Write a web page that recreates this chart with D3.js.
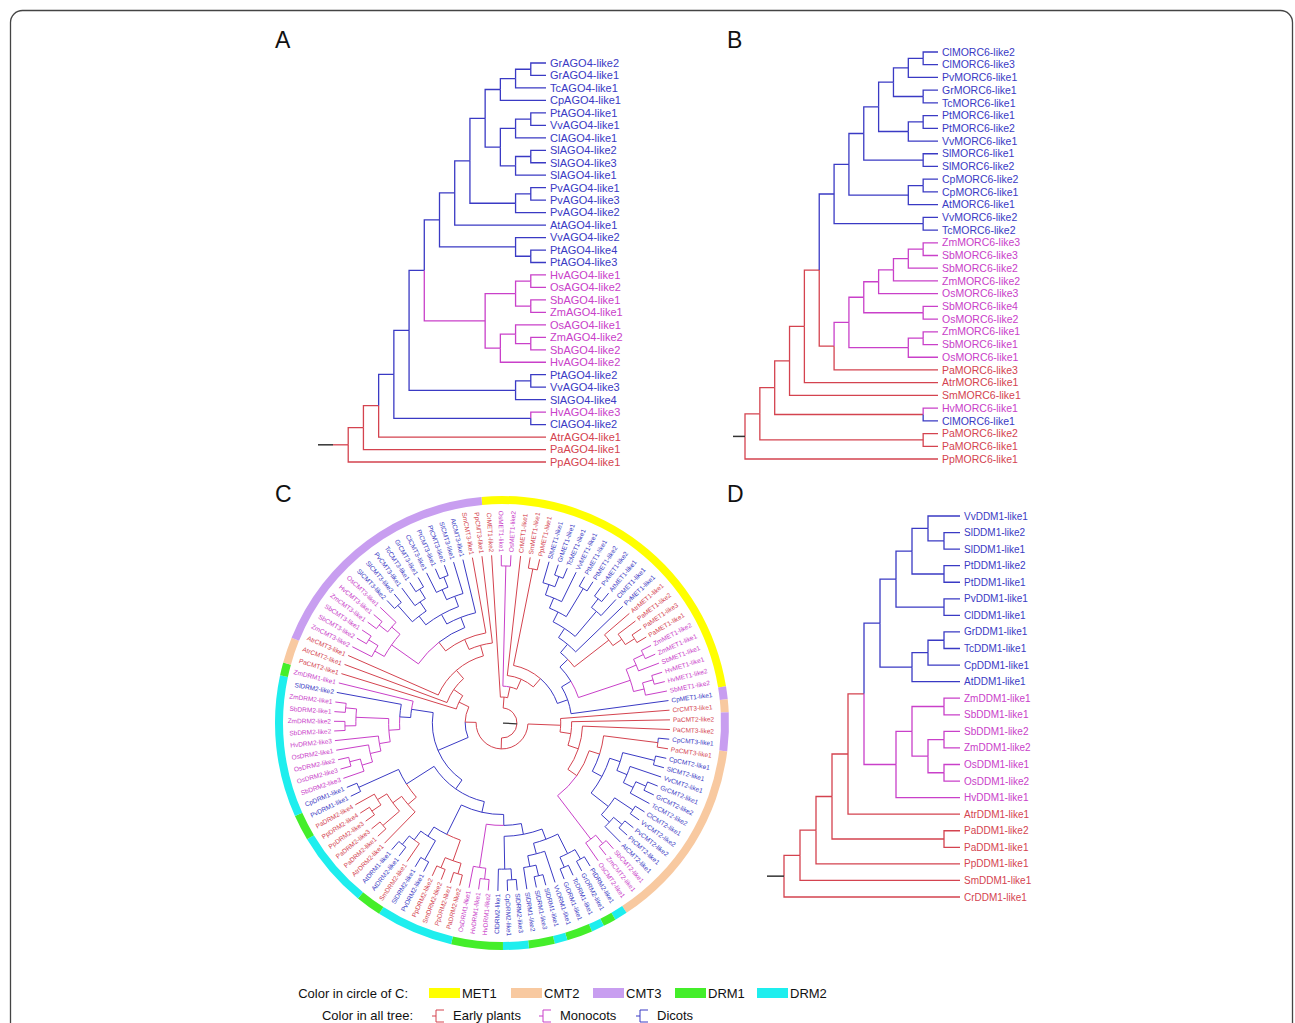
<!DOCTYPE html>
<html>
<head>
<meta charset="utf-8">
<script src="https://cdn.jsdelivr.net/npm/d3@7"></script>
<style>
  body { margin: 0; background: #fff; }
  svg { display: block; font-family: "Liberation Sans", Arial, sans-serif; }
</style>
</head>
<body>
<svg id="fig" width="1295" height="1023"></svg>
<script>
// ---- trees as newick (topology only, layout is a cladogram) ----
// a trailing letter after ")" forces the branch colour: e = early, m = monocot, d = dicot

// A: AGO4
const agoDicot = "(((((GrAGO4-like2,GrAGO4-like1),TcAGO4-like1),CpAGO4-like1),(((PtAGO4-like1,VvAGO4-like1),ClAGO4-like1),((SlAGO4-like2,SlAGO4-like3),SlAGO4-like1))),((PvAGO4-like1,PvAGO4-like3),PvAGO4-like2))";
const agoMono = "(((HvAGO4-like1,OsAGO4-like2),(SbAGO4-like1,ZmAGO4-like1)),((OsAGO4-like1,(ZmAGO4-like2,SbAGO4-like2)),HvAGO4-like2))";
const treeA = `(((((((((${agoDicot},AtAGO4-like1),(VvAGO4-like2,(PtAGO4-like4,PtAGO4-like3))),${agoMono}),((PtAGO4-like2,VvAGO4-like3),SlAGO4-like4)),(HvAGO4-like3,ClAGO4-like2)),AtrAGO4-like1),PaAGO4-like1),PpAGO4-like1)`;

// B: MORC6
const morcDicot = "((((((ClMORC6-like2,ClMORC6-like3),PvMORC6-like1),(GrMORC6-like1,TcMORC6-like1)),((PtMORC6-like1,PtMORC6-like2),VvMORC6-like1)),(SlMORC6-like1,SlMORC6-like2)),((CpMORC6-like2,CpMORC6-like1),AtMORC6-like1))";
const morcMono = "((((((ZmMORC6-like3,SbMORC6-like3),SbMORC6-like2),ZmMORC6-like2),OsMORC6-like3),(SbMORC6-like4,OsMORC6-like2)),((ZmMORC6-like1,SbMORC6-like1),OsMORC6-like1))";
const treeB = `(((((((${morcDicot},(VvMORC6-like2,TcMORC6-like2)),(${morcMono},PaMORC6-like3)),AtrMORC6-like1),SmMORC6-like1),(HvMORC6-like1,ClMORC6-like1)e),(PaMORC6-like2,PaMORC6-like1)),PpMORC6-like1)`;

// D: DDM1
const ddmDicot = "((((VvDDM1-like1,(SlDDM1-like2,SlDDM1-like1)),(PtDDM1-like2,PtDDM1-like1)),(PvDDM1-like1,ClDDM1-like1)),(((GrDDM1-like1,TcDDM1-like1),CpDDM1-like1),AtDDM1-like1))";
const ddmMono = "(((ZmDDM1-like1,SbDDM1-like1),((SbDDM1-like2,ZmDDM1-like2),(OsDDM1-like1,OsDDM1-like2))),HvDDM1-like1)";
const treeD = `((((((${ddmDicot},${ddmMono})e,AtrDDM1-like1),(PaDDM1-like2,PaDDM1-like1)),PpDDM1-like1),SmDDM1-like1),CrDDM1-like1)`;

// C: MET1 / CMT / DRM circle
const metDicot = "(((((SlMET1-like1,(GrMET1-like1,TcMET1-like1)),VvMET1-like1),(PtMET1-like1,PtMET1-like2)),((PvMET1-like2,AtMET1-like1),ClMET1-like1)),PvMET1-like1)";
const metPa = "(AtrMET1-like1,(PaMET1-like2,(PaMET1-like3,PaMET1-like1)))";
const metMono = "(((ZmMET1-like2,ZmMET1-like1),SbMET1-like1),((HvMET1-like1,HvMET1-like2),SbMET1-like2))";
const cmt2Dicot = "(((CpCMT2-like1,SlCMT2-like1),(VvCMT2-like1,((GrCMT2-like1,GrCMT2-like2),TcCMT2-like2))),((ClCMT2-like1,VvCMT2-like2),((PvCMT2-like2,PtCMT2-like1),AtCMT2-like1)))";
const cmt2Mono = "((SbCMT2-like1,ZmCMT2-like1),OsCMT2-like1)";
const drm1Dicot = "((((PtDRM2-like1,GrDRM2-like1),(TcDRM1-like1,GrDRM1-like1)),(VvDRM1-like1,((SlDRM1-like1,SlDRM1-like3),SlDRM1-like2))),((SlDRM2-like3,CpDRM2-like1),ClDRM2-like1))";
const drm1Mono = "((HvDRM1-like2,HvDRM1-like1),OsDRM1-like1)";
const drmEarlyA = "((PaDRM2-like2,PpDRM2-like1),(SmDRM2-like2,PpDRM2-like2))";
const drmMix = "((PvDRM2-like1,SlDRM2-like1),(SmDRM2-like1,(AtDRM2-like1,AtDRM1-like1))d)d";
const drmEarlyB = "(AtrDRM2-like1,((PaDRM2-like1,PaDRM2-like3),((PpDRM2-like3,PpDRM2-like4),PaDRM2-like4)))";
const drm2Mono = "((((SbDRM2-like3,(OsDRM2-like3,OsDRM2-like2)),OsDRM2-like1),HvDRM2-like3),((SbDRM2-like2,ZmDRM2-like2),(SbDRM2-like1,ZmDRM2-like1)))";
const cmt3Mono = "((ZmCMT3-like2,(SbCMT3-like2,SbCMT3-like1)),((ZmCMT3-like1,HvCMT3-like1),OsCMT3-like1))";
const cmt3Dicot = "((((SlCMT3-like2,SlCMT3-like3),(PvCMT3-like1,(TcCMT3-like1,GrCMT3-like1))),((ClCMT3-like1,(PtCMT3-like1,PtCMT3-like2)),SlCMT3-like1)),AtCMT3-like1)";

const cMet = `(CrMET1-like2,((OsMET1-like1,OsMET1-like2),(CrMET1-like1,((SmMET1-like1,PpMET1-like1),(((${metDicot},${metPa})d,${metMono})d,CpMET1-like1)d))))`;
const cRight = `(CrCMT3-like1,(PaCMT2-like2,(PaCMT3-like2,(((CpCMT3-like1,PaCMT3-like1),${cmt2Dicot}),${cmt2Mono}))))`;
const cDrm = `((((${drm1Dicot},${drm1Mono}),(${drmEarlyA},${drmMix})d)d,(${drmEarlyB},(PvDRM1-like1,CpDRM1-like1))d)d,((${drm2Mono},SlDRM2-like2),ZmDRM1-like1))d`;
const cLeft = `(PaCMT2-like1,(AtrCMT2-like1,(AtrCMT3-like1,(((${cmt3Mono},${cmt3Dicot})e,SmCMT3-like1),PpCMT3-like1))))`;
const treeC = `(${cMet},(${cRight},(${cDrm},${cLeft})))`;

// outer ring of C, runs of leaves in clockwise order
const ringFamilies = ["MET1","CMT3","CMT2","CMT3","CMT2","DRM2","DRM1","DRM2","DRM1","DRM2","DRM1","DRM2","DRM1","DRM2","DRM1","DRM2","DRM1","DRM2","DRM1","CMT2","CMT3"];
const ringCounts   = [26, 1, 1, 3, 15, 1, 1, 1, 2, 1, 2, 2, 4, 6, 2, 6, 2, 11, 1, 2, 19];

// legend
const familyNames = ["MET1", "CMT2", "CMT3", "DRM1", "DRM2"];
const familyColors = ["#ffff00", "#f8c9a0", "#c89ef0", "#44ee2a", "#1eeeee"];
const groupNames = ["Early plants", "Monocots", "Dicots"];
const groupKeys = ["e", "m", "d"];

const groupColor = { e: "#d4434f", m: "#c940c9", d: "#3a3ac4" };
const famColor = d3.scaleOrdinal().domain(familyNames).range(familyColors);

const svg = d3.select("#fig");

svg.append("rect")
  .attr("x", 10.5).attr("y", 10.5)
  .attr("width", 1282).attr("height", 1060)
  .attr("rx", 12)
  .attr("fill", "none")
  .attr("stroke", "#444")
  .attr("stroke-width", 1.3);

function parseNewick(str) {
  const s = str.replace(/\s+/g, "");
  let i = 0;
  function node() {
    const n = {};
    if (s[i] === "(") {
      i++;
      n.children = [node()];
      while (s[i] === ",") { i++; n.children.push(node()); }
      i++; // ")"
    }
    let name = "";
    while (i < s.length && !",()".includes(s[i])) name += s[i++];
    if (n.children) { if (name) n.col = name; }
    else n.name = name;
    return n;
  }
  return node();
}

function groupOf(name) {
  if (/^(Atr|Cr|Sm|Pp|Pa)/.test(name)) return "e";
  if (/^(Os|Zm|Sb|Hv)/.test(name)) return "m";
  return "d";
}

function buildTree(newick) {
  const root = d3.hierarchy(parseNewick(newick));
  root.eachAfter(n => {
    if (!n.children) { n.g = groupOf(n.data.name); return; }
    if (n.data.col) { n.g = n.data.col; return; }
    const gs = n.leaves().map(l => l.g);
    n.g = gs.includes("e") ? "e" : gs.includes("d") ? "d" : "m";
  });
  d3.cluster().size([1, 1]).separation(() => 1)(root);
  return root;
}

function drawRect(newick, o) {
  const root = buildTree(newick);
  const n = root.leaves().length;
  const y = d3.scaleLinear().domain([0.5 / n, 1 - 0.5 / n]).range([o.y0, o.y1]);
  const x = d3.scaleLinear().domain([0, 1]).range([o.x0, o.x1]);
  const g = svg.append("g");

  g.selectAll("path")
    .data(root.descendants().slice(1))
    .join("path")
    .attr("d", d => `M${x(d.parent.y)},${y(d.parent.x)}V${y(d.x)}H${x(d.y)}`)
    .attr("fill", "none")
    .attr("stroke", d => groupColor[d.g])
    .attr("stroke-width", 1.3);

  g.append("line")
    .attr("x1", o.x0 - o.stub).attr("x2", o.x0)
    .attr("y1", y(root.x)).attr("y2", y(root.x))
    .attr("stroke", "#333").attr("stroke-width", 1.5);

  g.selectAll("text")
    .data(root.leaves())
    .join("text")
    .attr("x", o.x1 + 4)
    .attr("y", d => y(d.x))
    .attr("dy", "0.35em")
    .attr("font-size", o.fs + "px")
    .attr("fill", d => groupColor[d.g])
    .text(d => d.data.name);
}

function drawCircle(newick, o) {
  const root = buildTree(newick);
  const n = root.leaves().length;
  const ang = d3.scaleLinear().domain([0, 1]).range([o.a0, o.a0 + 2 * Math.PI]);
  const rad = d3.scaleLinear().domain([0, 1]).range([o.r0, o.r1]);
  const pt = (a, r) => [r * Math.sin(a), -r * Math.cos(a)];
  const g = svg.append("g").attr("transform", `translate(${o.cx},${o.cy})`);

  // ring
  let start = 0;
  const runs = ringFamilies.map((f, k) => {
    const r = { fam: f, s: start, e: start + ringCounts[k] };
    start += ringCounts[k];
    return r;
  });
  const arc = d3.arc().innerRadius(o.ring0).outerRadius(o.ring1);
  g.selectAll("path.ring")
    .data(runs)
    .join("path")
    .attr("class", "ring")
    .attr("d", d => arc({ startAngle: ang(d.s / n), endAngle: ang(d.e / n) }))
    .attr("fill", d => famColor(d.fam));

  // branches
  g.selectAll("path.br")
    .data(root.descendants().slice(1))
    .join("path")
    .attr("class", "br")
    .attr("d", d => {
      const ap = ang(d.parent.x), rp = rad(d.parent.y);
      const ac = ang(d.x), rc = rad(d.y);
      const [x1, y1] = pt(ap, rp), [x2, y2] = pt(ac, rp), [x3, y3] = pt(ac, rc);
      const sweep = ac > ap ? 1 : 0;
      const large = Math.abs(ac - ap) > Math.PI ? 1 : 0;
      return `M${x1},${y1}A${rp},${rp} 0 ${large} ${sweep} ${x2},${y2}L${x3},${y3}`;
    })
    .attr("fill", "none")
    .attr("stroke", d => groupColor[d.g])
    .attr("stroke-width", 1);

  // root stub
  const [sx1, sy1] = pt(ang(root.x), rad(0));
  const [sx2, sy2] = pt(ang(root.x), 1);
  g.append("line")
    .attr("x1", sx1).attr("y1", sy1).attr("x2", sx2).attr("y2", sy2)
    .attr("stroke", "#333").attr("stroke-width", 1.2);

  // labels
  g.selectAll("text")
    .data(root.leaves())
    .join("text")
    .attr("transform", d => {
      const deg = ang(d.x) * 180 / Math.PI;
      const norm = ((deg % 360) + 360) % 360;
      return `rotate(${deg - 90}) translate(${o.rl},0)` + (norm > 180 ? " rotate(180)" : "");
    })
    .attr("text-anchor", d => {
      const deg = ang(d.x) * 180 / Math.PI;
      return ((deg % 360) + 360) % 360 > 180 ? "end" : "start";
    })
    .attr("dy", "0.35em")
    .attr("font-size", o.fs + "px")
    .attr("fill", d => groupColor[d.g])
    .text(d => d.data.name);
}

drawRect(treeA, { x0: 333, x1: 546, y0: 63, y1: 462, stub: 15, fs: 11 });
drawRect(treeB, { x0: 745, x1: 938, y0: 52, y1: 459, stub: 12, fs: 10.5 });
drawRect(treeD, { x0: 784, x1: 960, y0: 516, y1: 897, stub: 17, fs: 10 });
drawCircle(treeC, {
  cx: 502, cy: 723, r0: 15, r1: 168, rl: 171, ring0: 219, ring1: 227,
  a0: -5.2 * Math.PI / 180, fs: 6.5
});

// panel letters
[["A", 275, 48], ["B", 727, 48], ["C", 275, 502], ["D", 727, 502]].forEach(([t, x, y]) => {
  svg.append("text").attr("x", x).attr("y", y).attr("font-size", "23px").attr("fill", "#111").text(t);
});

// legend row 1
svg.append("text").attr("x", 408).attr("y", 998).attr("text-anchor", "end")
  .attr("font-size", "13px").attr("fill", "#111").text("Color in circle of C:");
const leg1 = svg.append("g");
familyNames.forEach((f, i) => {
  const x = 429 + i * 82;
  leg1.append("rect").attr("x", x).attr("y", 988).attr("width", 31).attr("height", 10).attr("fill", famColor(f));
  leg1.append("text").attr("x", x + 33).attr("y", 998).attr("font-size", "13px").attr("fill", "#111").text(f);
});

// legend row 2
svg.append("text").attr("x", 413).attr("y", 1020).attr("text-anchor", "end")
  .attr("font-size", "13px").attr("fill", "#111").text("Color in all tree:");
const legX = [432, 539, 636];
groupKeys.forEach((k, i) => {
  const x = legX[i];
  svg.append("path")
    .attr("d", `M${x},1016H${x + 4}M${x + 12},1010H${x + 4}V1022H${x + 12}`)
    .attr("fill", "none").attr("stroke", groupColor[k]).attr("stroke-width", 1);
  svg.append("text").attr("x", x + 21).attr("y", 1020).attr("font-size", "13px").attr("fill", "#111").text(groupNames[i]);
});
</script>
</body>
</html>
